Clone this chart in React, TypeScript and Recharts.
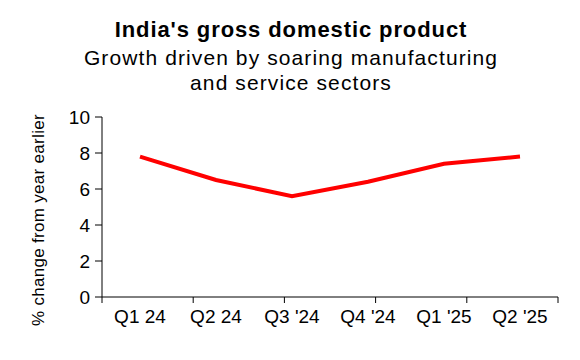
import React from "react";
import { LineChart, Line, XAxis, YAxis } from "recharts";

const quarters = ["Q1 24", "Q2 24", "Q3 '24", "Q4 '24", "Q1 '25", "Q2 '25"];
const growth = [7.8, 6.5, 5.6, 6.4, 7.4, 7.8];
const yTicks = [0, 2, 4, 6, 8, 10];
// band edges, used only to place the x tick marks between categories
const bandEdges = [0, 1, 2, 3, 4, 5, 6];

const data = quarters.map((q, i) => ({ quarter: q, growth: growth[i] }));

const font = "'Liberation Sans', Arial, sans-serif";

const NoLabel = () => <g />;

const App: React.FC = () => {
  return (
    <div
      style={{
        position: "absolute",
        left: 0,
        top: 0,
        width: 580,
        height: 360,
        background: "#fff",
        fontFamily: font,
        color: "#000",
      }}
    >
      <div
        style={{
          position: "absolute",
          left: 0,
          width: 582,
          top: 17,
          textAlign: "center",
          lineHeight: "25px",
          fontWeight: "bold",
          fontSize: 22,
          letterSpacing: 0.9,
        }}
      >
        India's gross domestic product
      </div>
      <div
        style={{
          position: "absolute",
          left: 0,
          width: 582,
          top: 45,
          textAlign: "center",
          lineHeight: "25px",
          fontSize: 21,
          letterSpacing: 1.1,
        }}
      >
        Growth driven by soaring manufacturing
        <br />
        and service sectors
      </div>

      <LineChart
        width={580}
        height={360}
        data={data}
        margin={{ top: 117, right: 22, bottom: 33, left: 0 }}
        style={{ position: "absolute", left: 0, top: 0 }}
      >
        <XAxis
          xAxisId={0}
          type="number"
          domain={[0, 6]}
          ticks={bandEdges}
          allowDataOverflow
          height={1}
          tick={NoLabel}
          tickSize={6}
          tickLine={{ stroke: "#000" }}
          axisLine={{ stroke: "#000" }}
        />
        <XAxis
          xAxisId="labels"
          dataKey="quarter"
          height={29}
          interval={0}
          tickLine={false}
          axisLine={false}
          tickSize={6}
          tickMargin={6}
          tick={{ fill: "#000", fontSize: 19, fontFamily: font }}
          padding={{ left: 38, right: 38 }}
        />
        <YAxis
          width={102}
          domain={[0, 10]}
          ticks={yTicks}
          interval={0}
          tickLine={{ stroke: "#000" }}
          axisLine={{ stroke: "#000" }}
          tickSize={7}
          tickMargin={5}
          tick={{ fill: "#000", fontSize: 19, fontFamily: font }}
          label={{
            value: "% change from year earlier",
            angle: -90,
            position: "insideLeft",
            offset: 38,
            dy: 13,
            style: {
              textAnchor: "middle",
              fill: "#000",
              fontSize: 17,
              fontFamily: font,
              letterSpacing: 0.3,
            },
          }}
        />
        <Line
          xAxisId="labels"
          type="linear"
          dataKey="growth"
          stroke="#ff0000"
          strokeWidth={4}
          dot={false}
          activeDot={false}
          isAnimationActive={false}
        />
      </LineChart>
    </div>
  );
};

export default App;
